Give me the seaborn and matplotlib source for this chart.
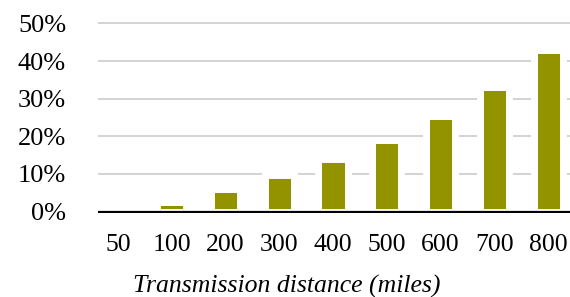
import pandas as pd
import matplotlib
matplotlib.use("Agg")
import matplotlib.pyplot as plt
import seaborn as sns

# data (percent)
distances = ["50", "100", "200", "300", "400", "500", "600", "700", "800"]
shares = [0.0, 2.5, 6.1, 9.7, 13.9, 19.0, 25.4, 33.1, 42.9]
y_ticks = [0, 10, 20, 30, 40, 50]

df = pd.DataFrame({"Distance": distances, "Share": shares})

sns.set_theme(style="white")
plt.rcParams["font.family"] = ["Liberation Serif", "DejaVu Serif"]

fig = plt.figure(figsize=(5.7, 2.97), dpi=100)
ax = fig.add_axes([0.1719, 0.2815, 0.8281, 0.6458])

sns.barplot(data=df, x="Distance", y="Share", color="#939300", saturation=1,
            width=0.54, edgecolor="white", linewidth=5.0, ax=ax, zorder=2)

ax.set_axisbelow(True)
ax.yaxis.grid(True, color="#c8c8c8", linewidth=1.1)
ax.axhline(0, color="black", linewidth=1.6, zorder=4)

ax.set_xlim(-0.372, 8.409)
ax.set_ylim(-0.5, 50.5)
ax.set_yticks(y_ticks)
ax.set_yticklabels([f"{v}%" for v in y_ticks], fontsize=19)
ax.tick_params(axis="y", length=0, pad=23, labelcolor="black")
ax.tick_params(axis="x", length=0, pad=15, labelsize=18.5, labelcolor="black")
for s in ax.spines.values():
    s.set_visible(False)

ax.set_ylabel("")
ax.set_xlabel("Transmission distance (miles)", fontsize=18.5, fontstyle="italic",
              color="black")
ax.xaxis.set_label_coords(0.40, -0.32)

fig.savefig("out.png", dpi=100)
